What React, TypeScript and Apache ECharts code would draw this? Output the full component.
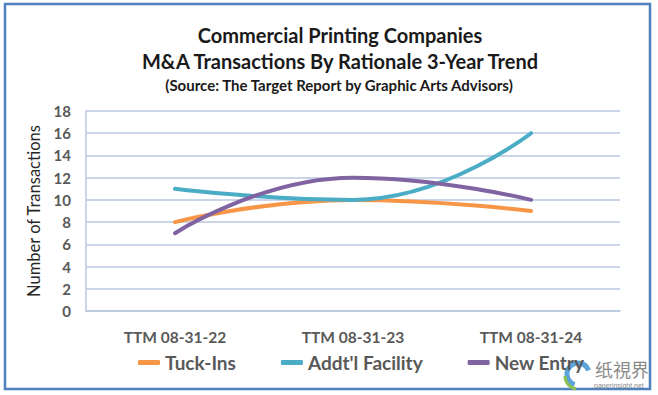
import React, { useEffect, useRef } from "react";
import * as echarts from "echarts";

const categories = ["TTM 08-31-22", "TTM 08-31-23", "TTM 08-31-24"];
const tuckIns = [8, 10, 9];
const addtlFacility = [11, 10, 16];
const newEntry = [7, 12, 10];
const seriesNames = ["Tuck-Ins", "Addt'l Facility", "New Entry"];
const colors = ["#F79646", "#4BACC6", "#8064A2"];
const titleLines = [
  "Commercial Printing Companies",
  "M&A Transactions By Rationale 3-Year Trend",
  "(Source: The Target Report by Graphic Arts Advisors)",
];

const FONT = "Lato, 'Open Sans', sans-serif";

export default function App() {
  const ref = useRef<HTMLDivElement>(null);
  useEffect(() => {
    document.body.style.margin = "0";
    const chart = echarts.init(ref.current!, null, { renderer: "svg" });
    const mkSeries = (name: string, data: number[], color: string) => ({
      name,
      type: "line",
      data,
      smooth: 0.5,
      symbol: "none",
      lineStyle: { width: 4, color, cap: "round" },
      itemStyle: { color },
    });
    chart.setOption({
      animation: false,
      backgroundColor: "#ffffff",
      textStyle: { fontFamily: FONT },
      grid: { left: 86, right: 38, top: 111, bottom: 84, containLabel: false },
      legend: {
        data: seriesNames,
        left: 133,
        top: 348,
        itemWidth: 22,
        itemHeight: 5,
        itemGap: 45,
        icon: "roundRect",
        textStyle: { fontSize: 19, color: "#595959", fontWeight: "bold", fontFamily: FONT },
      },
      xAxis: {
        type: "category",
        data: categories,
        boundaryGap: true,
        axisLine: { show: true, lineStyle: { color: "#B9C9E0", width: 1.5 } },
        axisTick: { show: false },
        axisLabel: { fontSize: 15.5, fontWeight: "bold", color: "#595959", margin: 18, fontFamily: FONT },
      },
      yAxis: {
        type: "value",
        min: 0,
        max: 18,
        interval: 2,
        name: "Number of Transactions",
        nameLocation: "middle",
        nameGap: 44,
        nameTextStyle: { fontSize: 16.5, color: "#262626", fontFamily: FONT },
        axisLine: { show: true, lineStyle: { color: "#B9C9E0", width: 1.5 } },
        axisTick: { show: false },
        axisLabel: { fontSize: 15, fontWeight: "bold", color: "#595959", margin: 15, fontFamily: FONT },
        splitLine: { lineStyle: { color: "#B9C9E0", width: 1.5 } },
      },
      series: [
        mkSeries(seriesNames[0], tuckIns, colors[0]),
        mkSeries(seriesNames[1], addtlFacility, colors[1]),
        mkSeries(seriesNames[2], newEntry, colors[2]),
      ],
      graphic: [
        {
          type: "rect",
          shape: { x: 5, y: 4, width: 645, height: 385 },
          style: { fill: "none", stroke: "#4F81BD", lineWidth: 2.5 },
          silent: true,
        },
        {
          type: "text",
          x: 340,
          y: 35,
          style: { text: titleLines[0], fontSize: 20, fontWeight: "bold", fill: "#1a1a1a", fontFamily: FONT, align: "center", verticalAlign: "middle" },
          silent: true,
        },
        {
          type: "text",
          x: 340,
          y: 61,
          style: { text: titleLines[1], fontSize: 20, fontWeight: "bold", fill: "#1a1a1a", fontFamily: FONT, align: "center", verticalAlign: "middle" },
          silent: true,
        },
        {
          type: "text",
          x: 339,
          y: 85,
          style: { text: titleLines[2], fontSize: 15, fontWeight: "bold", fill: "#1a1a1a", fontFamily: FONT, align: "center", verticalAlign: "middle" },
          silent: true,
        },
        {
          type: "arc",
          shape: { cx: 578, cy: 374, r: 11, startAngle: Math.PI * 0.6, endAngle: Math.PI * 1.9 },
          style: { stroke: "#5BA3D9", lineWidth: 5, fill: "none" },
          silent: true,
        },
        {
          type: "arc",
          shape: { cx: 578, cy: 376, r: 13, startAngle: Math.PI * 0.55, endAngle: Math.PI * 1.0 },
          style: { stroke: "#8CC152", lineWidth: 3, fill: "none" },
          silent: true,
        },
        {
          type: "text",
          x: 595,
          y: 360,
          style: { text: "纸視界", fontSize: 18, fill: "#8a8a8a", fontFamily: "'Noto Sans CJK SC', sans-serif" },
          silent: true,
        },
        {
          type: "text",
          x: 594,
          y: 382,
          style: { text: "paperinsight.net", fontSize: 7, fill: "#8a8a8a", fontFamily: "sans-serif" },
          silent: true,
        },
      ],
    });
    return () => chart.dispose();
  }, []);
  return <div ref={ref} style={{ width: 658, height: 395, position: "absolute", left: 0, top: 0 }} />;
}
